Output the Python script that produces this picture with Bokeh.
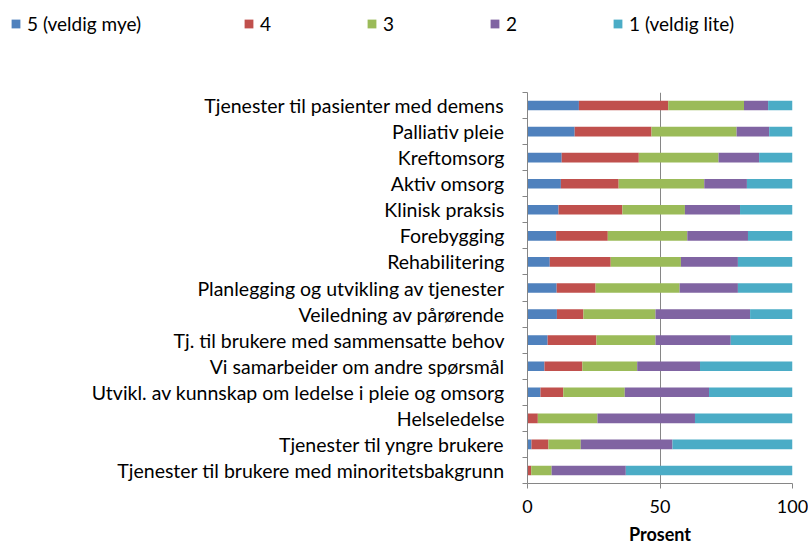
from bokeh.plotting import figure
from bokeh.models import ColumnDataSource, Range1d, FixedTicker, Legend, LegendItem
from bokeh.embed import file_html
from bokeh.resources import INLINE

categories = [
    "Tjenester til pasienter med demens",
    "Palliativ pleie",
    "Kreftomsorg",
    "Aktiv omsorg",
    "Klinisk praksis",
    "Forebygging",
    "Rehabilitering",
    "Planlegging og utvikling av tjenester",
    "Veiledning av pårørende",
    "Tj. til brukere med sammensatte behov",
    "Vi samarbeider om andre spørsmål",
    "Utvikl. av kunnskap om ledelse i pleie og omsorg",
    "Helseledelse",
    "Tjenester til yngre brukere",
    "Tjenester til brukere med minoritetsbakgrunn",
]
v5 = [19.4, 17.8, 12.9, 12.6, 11.7, 10.8, 8.4, 11.0, 11.1, 7.6, 6.4, 4.9, 0.0, 1.5, 0.0]
v4 = [33.7, 29.0, 29.1, 21.8, 24.1, 19.5, 23.0, 14.7, 10.0, 18.4, 14.3, 8.6, 3.9, 6.4, 1.4]
v3 = [28.6, 32.1, 30.1, 32.3, 23.6, 30.0, 26.5, 31.7, 27.2, 22.3, 20.7, 23.2, 22.5, 12.2, 7.7]
v2 = [9.1, 12.3, 15.3, 16.1, 20.8, 22.9, 21.5, 22.0, 35.7, 28.4, 23.7, 31.8, 36.8, 34.6, 28.0]
v1 = [9.2, 8.8, 12.6, 17.2, 19.8, 16.8, 20.6, 20.6, 16.0, 23.3, 34.9, 31.5, 36.8, 45.3, 62.9]
series_keys = ["v5", "v4", "v3", "v2", "v1"]
series_labels = ["5 (veldig mye)", "4", "3", "2", "1 (veldig lite)"]
x_ticks = [0, 50, 100]
x_label = "Prosent"

colors = ["#4F81BD", "#C0504D", "#9BBB59", "#8064A2", "#4BACC6"]
FONT = "Lato"
GRAY = "#868686"
W = 808
LEG_H = 50

n = len(categories)
ypos = [n - i - 0.5 for i in range(n)]
source = ColumnDataSource(dict(y=ypos, v5=v5, v4=v4, v3=v3, v2=v2, v1=v1))

# ---------------- main chart ----------------
p = figure(width=W, height=497, x_range=Range1d(0, 100), y_range=Range1d(0, n),
           output_backend="svg", toolbar_location=None,
           min_border_left=527, min_border_right=16, min_border_top=92 - LEG_H,
           min_border_bottom=64)

p.hbar_stack(series_keys, y="y", height=0.37, color=colors, line_color=None, source=source)

p.yaxis.ticker = FixedTicker(ticks=ypos, minor_ticks=list(range(n + 1)))
p.yaxis.major_label_overrides = {y: c for y, c in zip(ypos, categories)}
p.yaxis.major_tick_out = 0
p.yaxis.major_tick_in = 0
p.yaxis.minor_tick_out = 5
p.yaxis.minor_tick_in = 0
p.yaxis.minor_tick_line_color = GRAY
p.yaxis.axis_line_color = GRAY
p.yaxis.major_label_standoff = 18
p.yaxis.major_label_text_font = FONT
p.yaxis.major_label_text_font_size = "19.5px"
p.yaxis.major_label_text_color = "black"

p.xaxis.ticker = FixedTicker(ticks=x_ticks)
p.xaxis.major_tick_out = 5
p.xaxis.major_tick_in = 0
p.xaxis.major_tick_line_color = GRAY
p.xaxis.axis_line_color = GRAY
p.xaxis.major_label_text_font = FONT
p.xaxis.major_label_text_font_size = "18px"
p.xaxis.major_label_text_color = "black"
p.xaxis.major_label_standoff = 11
p.xaxis.axis_label = x_label
p.xaxis.axis_label_text_font = FONT
p.xaxis.axis_label_text_font_style = "bold"
p.xaxis.axis_label_text_font_size = "18px"
p.xaxis.axis_label_text_color = "black"
p.xaxis.axis_label_standoff = 7

p.xgrid.ticker = FixedTicker(ticks=[50, 100])
p.xgrid.grid_line_color = GRAY
p.ygrid.grid_line_color = None
p.outline_line_color = None

# ---------------- legend strip (separate root, frame spans the whole strip) ----------------
lf = figure(width=W, height=LEG_H, x_range=Range1d(0, 100), y_range=Range1d(n + 10, n + 11),
            output_backend="svg", toolbar_location=None,
            x_axis_location=None, y_axis_location=None, min_border=0)
lf.grid.grid_line_color = None
lf.outline_line_color = None
# same stacked series; the strip's y range lies outside the data, so only the legend shows
swatches = lf.hbar_stack(series_keys, y="y", height=0.37, color=colors, line_color=None,
                         source=source)
items = [LegendItem(label=lab, renderers=[r]) for lab, r in zip(series_labels, swatches)]
common = dict(orientation="horizontal", glyph_width=11, glyph_height=11, label_standoff=6,
              padding=0, margin=0, spacing=0, border_line_color=None,
              background_fill_alpha=0, label_text_font=FONT, label_text_font_size="19px",
              label_text_color="black", label_height=20)
lf.add_layout(Legend(items=items[:1], location=(10, 15), **common))
lf.add_layout(Legend(items=items[1:], location=(243, 15), label_width=106, **common))

open("out.html", "w").write(file_html([lf, p], INLINE))
